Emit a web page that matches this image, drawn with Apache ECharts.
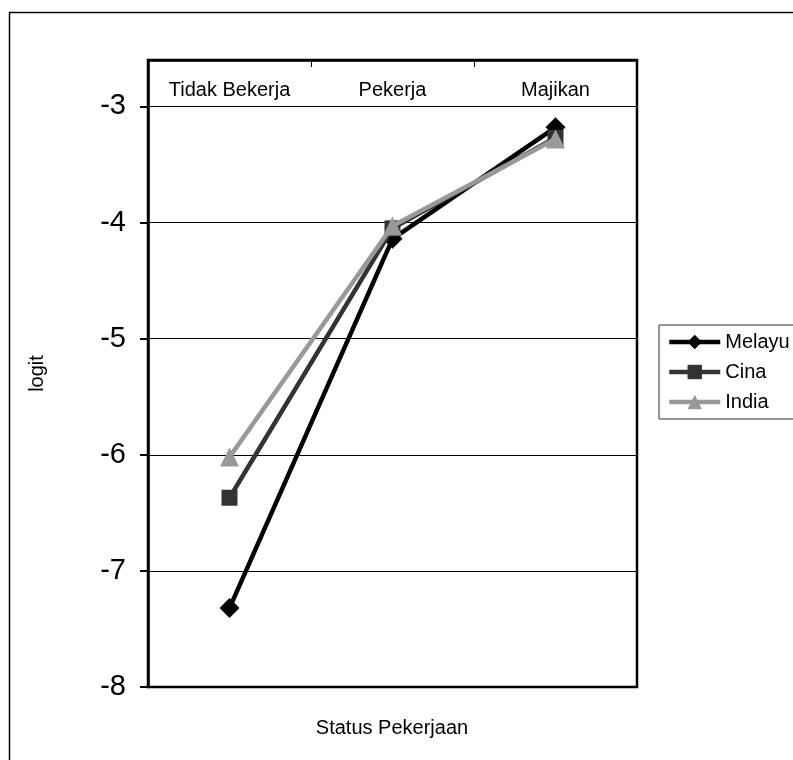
<!DOCTYPE html>
<html>
<head>
<meta charset="utf-8">
<script src="https://cdn.jsdelivr.net/npm/echarts@6/dist/echarts.min.js"></script>
<style>
html,body{margin:0;padding:0;background:#fff;}
#c{width:793px;height:760px;}
</style>
</head>
<body>
<div id="c"></div>
<script>
var categories = ['Tidak Bekerja', 'Pekerja', 'Majikan'];
var melayu = [-7.32, -4.14, -3.18];
var cina = [-6.37, -4.05, -3.27];
var india = [-6.02, -4.03, -3.28];
var seriesNames = ['Melayu', 'Cina', 'India'];
var yMin = -8, yMax = -2.6, yStep = 1;

var chart = echarts.init(document.getElementById('c'), null, {renderer: 'canvas'});
var FONT = 'Liberation Sans, Arial, sans-serif';
chart.setOption({
  backgroundColor: '#fff',
  animation: false,
  graphic: [
    {type: 'rect', z: -10, silent: true, shape: {x: 9.5, y: 12.5, width: 900, height: 900},
     style: {fill: 'none', stroke: '#000', lineWidth: 1.5}},
    {type: 'text', x: 392, y: 728, style: {text: 'Status Pekerjaan', font: '20px ' + FONT,
     fill: '#000', align: 'center', verticalAlign: 'middle'}}
  ],
  grid: {left: 148, top: 60, right: 156, bottom: 73, show: true, borderColor: '#000', borderWidth: 2.5, backgroundColor: 'transparent'},
  legend: {
    orient: 'vertical', left: 659, top: 325,
    padding: [7, 40, 7, 8], itemGap: 10, itemWidth: 51, itemHeight: 18,
    borderColor: '#333', borderWidth: 1, backgroundColor: '#fff',
    lineStyle: {width: 4.5},
    textStyle: {fontSize: 20, fontFamily: FONT, color: '#000'},
    data: seriesNames
  },
  xAxis: {
    type: 'category', position: 'top', data: categories,
    axisLine: {show: true, lineStyle: {color: '#000', width: 2.5}},
    axisTick: {show: true, inside: true, length: 7, lineStyle: {color: '#000', width: 1}},
    axisLabel: {inside: true, margin: 20, fontSize: 20, fontFamily: FONT, color: '#000'},
    splitLine: {show: false}
  },
  yAxis: {
    type: 'value', min: yMin, max: yMax, interval: yStep,
    name: 'logit', nameLocation: 'middle', nameGap: 101, nameRotate: 90,
    nameTextStyle: {fontSize: 20, fontFamily: FONT, color: '#000'},
    axisLine: {show: true, lineStyle: {color: '#000', width: 2.5}},
    axisTick: {show: true, inside: false, length: 8, lineStyle: {color: '#000', width: 2}},
    axisLabel: {margin: 22, fontSize: 29, fontFamily: FONT, color: '#000', showMaxLabel: false,
      formatter: function (v) { return Math.abs(v - Math.round(v)) < 1e-6 ? String(Math.round(v)) : ''; }},
    splitLine: {show: true, lineStyle: {color: '#000', width: 1}}
  },
  series: [
    {name: 'Melayu', type: 'line', data: melayu, symbol: 'diamond', symbolSize: 20,
     itemStyle: {color: '#000'}, lineStyle: {color: '#000', width: 4.5}, z: 3},
    {name: 'Cina', type: 'line', data: cina, symbol: 'rect', symbolSize: 16,
     itemStyle: {color: '#333'}, lineStyle: {color: '#333', width: 4.5}, z: 4},
    {name: 'India', type: 'line', data: india, symbol: 'triangle', symbolSize: 19,
     itemStyle: {color: '#999'}, lineStyle: {color: '#999', width: 4.5}, z: 5}
  ]
});
</script>
</body>
</html>
